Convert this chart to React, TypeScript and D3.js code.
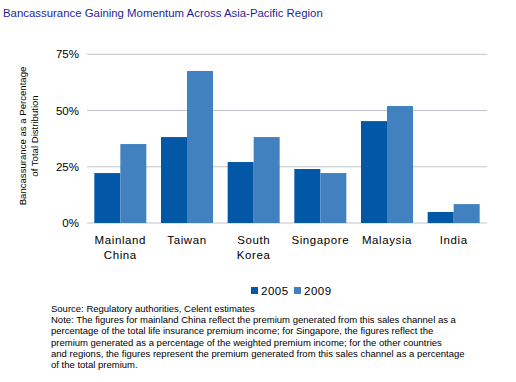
import React from "react";
import * as d3 from "d3";

const categories = [["Mainland", "China"], ["Taiwan"], ["South", "Korea"], ["Singapore"], ["Malaysia"], ["India"]];
const seriesNames = ["2005", "2009"];
const values2005 = [22.2, 38.2, 27.1, 24, 45.3, 4.9];
const values2009 = [35.1, 67.6, 38.2, 22.2, 52, 8.4];
const yTicks = [0, 25, 50, 75];
const title = "Bancassurance Gaining Momentum Across Asia-Pacific Region";
const yTitle = ["Bancassurance as a Percentage", "of Total Distribution"];
const notes = [
  "Source: Regulatory authorities, Celent estimates",
  "Note: The figures for mainland China reflect the premium generated from this sales channel as a",
  "percentage of the total life insurance premium income; for Singapore, the figures reflect the",
  "premium generated as a percentage of the weighted premium income; for the other countries",
  "and regions, the figures represent the premium generated from this sales channel as a percentage",
  "of the total premium.",
];

const colors = ["#0257A6", "#4181BF"];
const FONT = "'Liberation Sans', Arial, sans-serif";

export default function App() {
  const W = 516, H = 382;
  const left = 87, right = 487, top = 54.3, bottom = 223;
  const x0 = d3.scaleBand<number>().domain(d3.range(categories.length)).range([left, right]).paddingInner(0.22).paddingOuter(0.11);
  const x1 = d3.scaleBand<number>().domain([0, 1]).range([0, x0.bandwidth()]);
  const y = d3.scaleLinear().domain([0, 75]).range([bottom, top]);
  const series = [values2005, values2009];

  return (
    <svg width={W} height={H} style={{ position: "absolute", left: 0, top: 0, background: "#fff" }} fontFamily={FONT}>
      <text x={3} y={17} fontSize={11.4} fill="#1F1F99">{title}</text>
      {yTicks.map((t) => (
        <g key={t}>
          <line x1={left} x2={right} y1={y(t)} y2={y(t)} stroke="#BFC4CA" strokeWidth={1} />
          <text x={79} y={y(t)} dy="0.35em" textAnchor="end" fontSize={11.5} fill="#000">{t}%</text>
        </g>
      ))}
      {series.map((vals, si) =>
        vals.map((v, i) => (
          <rect key={`${si}-${i}`} x={(x0(i) as number) + (x1(si) as number)} y={y(v)} width={x1.bandwidth()} height={y(0) - y(v)} fill={colors[si]} />
        ))
      )}
      {categories.map((lines, i) => (
        <text key={i} x={(x0(i) as number) + x0.bandwidth() / 2} y={244} textAnchor="middle" fontSize={11.5} letterSpacing={0.6} fill="#000">
          {lines.map((l, j) => (
            <tspan key={j} x={(x0(i) as number) + x0.bandwidth() / 2} dy={j === 0 ? 0 : 15}>{l}</tspan>
          ))}
        </text>
      ))}
      <g transform="translate(0,136) rotate(-90)">
        {yTitle.map((l, j) => (
          <text key={j} x={0} y={26 + j * 12} textAnchor="middle" fontSize={9.6} fill="#000">{l}</text>
        ))}
      </g>
      {seriesNames.map((s, i) => (
        <g key={s} transform={`translate(${251 + i * 43},287)`}>
          <rect x={0} y={0} width={7} height={7} fill={colors[i]} />
          <text x={10} y={7.5} fontSize={11.5} letterSpacing={0.5} fill="#000">{s}</text>
        </g>
      ))}
      {notes.map((n, i) => (
        <text key={i} x={51} y={312 + i * 11.2} fontSize={9.5} fill="#000">{n}</text>
      ))}
    </svg>
  );
}
